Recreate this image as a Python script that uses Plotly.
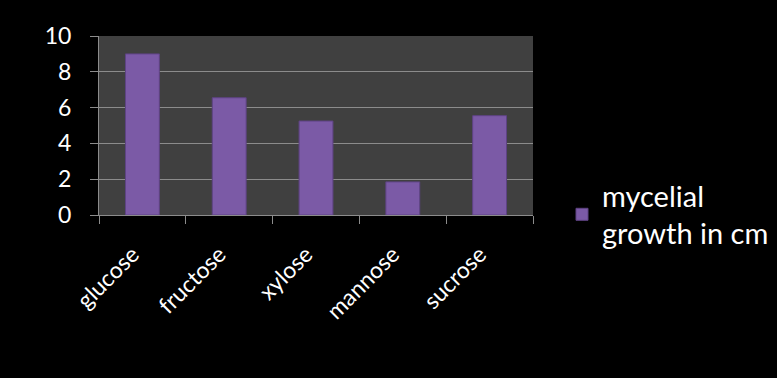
import plotly.graph_objects as go

categories = ["glucose", "fructose", "xylose", "mannose", "sucrose"]
growth_cm = [9.0, 6.55, 5.25, 1.85, 5.55]
series_name = "mycelial<br>growth in cm"
y_ticks = [0, 2, 4, 6, 8, 10]

fig = go.Figure()
fig.add_trace(go.Bar(
    x=categories, y=growth_cm, name=series_name, showlegend=True,
    marker=dict(color="#7b5aa6", line=dict(color="#5e4384", width=1)),
))

fig.update_layout(
    width=777, height=378,
    paper_bgcolor="black", plot_bgcolor="#404040",
    margin=dict(l=99, r=244, t=36, b=163, autoexpand=False),
    bargap=0.61,
    font=dict(family="Lato, Open Sans, sans-serif", color="white"),
    showlegend=True,
    legend=dict(xref="container", yref="container", x=0.7233, y=0.55,
                xanchor="left", yanchor="top",
                font=dict(size=29, color="white"), bgcolor="rgba(0,0,0,0)"),
    xaxis=dict(
        tickson="boundaries", ticks="outside", ticklen=8, tickcolor="#8c8c8c",
        showline=True, linecolor="#8c8c8c", linewidth=1,
        tickangle=-45, tickfont=dict(size=23, color="white"),
        ticklabelstandoff=16, ticklabelshift=-10,
        showgrid=False,
    ),
    yaxis=dict(
        range=[0, 10], tickvals=y_ticks, ticks="outside", ticklen=8,
        tickcolor="#8c8c8c", showline=True, linecolor="#8c8c8c",
        gridcolor="#8c8c8c", gridwidth=1, zeroline=False,
        tickfont=dict(size=23, color="white"), ticklabelstandoff=14,
    ),
)

fig.write_html(
    "out.html",
    config={"displayModeBar": False},
    post_script="document.body.style.margin='0';document.body.style.background='black';",
)
